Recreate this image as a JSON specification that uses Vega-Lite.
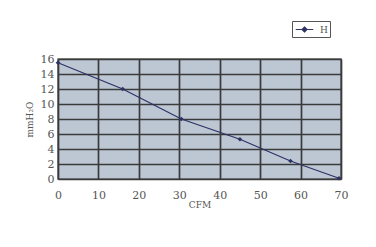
{
  "$schema": "https://vega.github.io/schema/vega-lite/v6.json",
  "width": 283,
  "height": 120,
  "autosize": "none",
  "padding": {"left": 58, "top": 59, "right": 35, "bottom": 68},
  "background": "white",
  "data": {"values": [
    {"cfm": 0, "p": 15.5, "s": "H"},
    {"cfm": 16, "p": 12, "s": "H"},
    {"cfm": 30.5, "p": 8, "s": "H"},
    {"cfm": 45, "p": 5.3, "s": "H"},
    {"cfm": 57.5, "p": 2.4, "s": "H"},
    {"cfm": 69.5, "p": 0.1, "s": "H"}
  ]},
  "config": {
    "view": {"fill": "#bdc7d4", "stroke": "#666", "strokeWidth": 1.5},
    "axis": {
      "labelFont": "DejaVu Serif", "labelFontSize": 11, "labelColor": "#555",
      "titleFont": "DejaVu Serif", "titleFontSize": 9, "titleColor": "#555", "titleFontWeight": "normal",
      "domain": false, "ticks": false, "labelFlush": false,
      "gridColor": "#3a3a3a", "gridWidth": 1.7, "gridOpacity": 1
    }
  },
  "encoding": {
    "x": {"field": "cfm", "type": "quantitative",
      "scale": {"domain": [0, 70], "nice": false},
      "axis": {"values": [0,10,20,30,40,50,60,70], "title": "CFM", "labelPadding": 10, "titlePadding": 0}},
    "y": {"field": "p", "type": "quantitative",
      "scale": {"domain": [0, 16], "nice": false},
      "axis": {"values": [0,2,4,6,8,10,12,14,16], "title": "mmH₂O", "labelPadding": 4, "titlePadding": 6}}
  },
  "layer": [
    {"mark": {"type": "line", "strokeWidth": 1.3},
     "encoding": {"color": {"field": "s", "type": "nominal", "scale": {"range": ["#2e3366"]},
      "legend": {"title": null, "orient": "none", "legendX": 234, "legendY": -38,
        "strokeColor": "#555", "padding": 2, "labelFont": "DejaVu Serif", "labelFontSize": 9, "labelColor": "#555",
        "symbolType": "M-1.6,0H1.6M0,-0.45L0.45,0L0,0.45L-0.45,0Z", "symbolSize": 120,
        "symbolOffset": 4, "labelOffset": 9,
        "symbolFillColor": "#2e3366", "symbolStrokeWidth": 1.2}}}},
    {"mark": {"type": "point", "filled": true, "shape": "diamond", "color": "#2e3366", "size": 22, "opacity": 1}}
  ]
}
